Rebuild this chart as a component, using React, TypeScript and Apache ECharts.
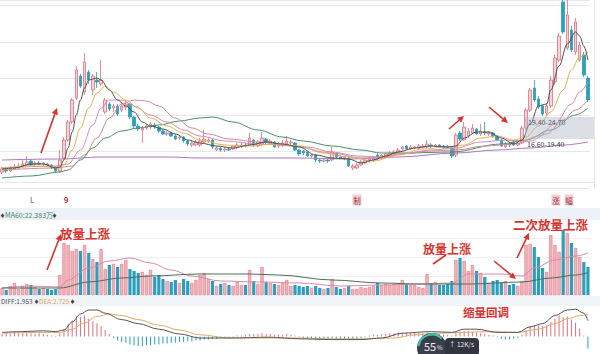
import React, { useEffect, useRef } from "react";
import * as echarts from "echarts";

// ---------- price candles (open / close / low / high) ----------
const opens = [12.5,13.0,12.75,13.25,13.5,14.0,14.25,15.25,14.5,14.75,14.5,14.5,14.25,13.75,12.75,16.0,20.5,25.0,31.0,36.5,32.5,37.5,33.0,35.5,34.5,27.5,29.5,28.5,29.0,28.0,28.75,29.5,26.25,24.0,23.0,23.5,23.75,24.25,23.75,22.75,22.0,22.25,21.5,21.0,21.25,20.25,19.25,19.25,19.25,20.0,20.25,20.5,18.0,18.5,18.0,18.25,18.25,18.75,19.0,19.25,19.25,20.5,19.0,19.5,20.75,20.0,20.0,19.0,19.25,19.5,19.75,19.75,18.0,17.75,17.5,16.5,16.75,15.5,15.25,15.5,15.5,17.0,16.25,16.0,16.0,13.5,13.5,14.25,14.75,15.25,15.5,16.75,16.0,16.5,16.75,17.0,17.5,18.25,19.0,18.25,18.5,18.5,18.75,18.75,19.25,19.0,19.25,19.0,18.75,18.5,16.75,22.25,20.5,21.5,22.25,23.25,22.0,22.5,22.0,22.25,21.5,20.5,18.75,19.5,20.0,19.25,19.75,23.5,28.0,33.5,30.75,29.0,27.25,29.0,35.0,40.5,55.0,43.5,48.0,42.5,40.5,41.75,36.0];
const closes = [13.25,12.75,13.5,13.75,14.0,14.5,15.0,14.25,14.75,14.5,14.75,14.25,13.5,12.75,15.5,20.5,25.0,30.5,38.0,34.0,40.0,35.5,36.5,35.0,35.5,30.5,28.25,29.0,27.0,29.0,29.5,26.25,24.0,23.25,23.5,24.0,24.5,23.75,22.75,22.0,22.25,21.5,20.75,21.25,20.25,19.5,19.75,20.0,20.25,20.75,20.5,18.75,18.5,18.0,18.25,18.0,19.0,19.25,19.25,19.0,21.0,19.25,20.0,21.0,20.0,20.25,18.75,19.5,19.75,20.25,20.0,18.0,17.0,17.25,16.5,16.75,15.5,15.25,15.5,15.25,17.5,16.25,16.0,16.25,14.0,14.0,14.25,15.0,15.5,15.75,16.0,15.75,16.75,17.0,17.25,17.5,18.0,18.75,18.25,18.75,18.75,19.0,19.0,19.5,19.0,19.25,18.75,18.5,18.5,16.5,21.75,20.75,23.75,22.75,23.5,22.0,22.75,22.25,22.25,21.5,20.5,19.0,19.5,19.25,19.25,19.75,23.5,28.0,33.0,30.5,28.75,27.0,29.0,35.5,41.0,46.5,47.5,51.75,43.0,50.0,44.25,36.75,30.5];
const lows = [12.0,12.25,12.5,13.0,13.25,13.5,14.0,14.0,14.0,14.25,14.0,13.75,13.25,12.25,12.25,15.5,20.0,24.5,30.5,33.5,31.75,34.5,31.75,33.5,34.0,27.0,27.75,27.5,26.5,27.5,28.0,25.75,23.5,22.75,19.75,23.0,23.25,23.25,22.25,21.75,21.5,21.25,20.5,20.5,19.75,19.0,18.75,19.0,18.75,19.75,19.75,18.25,17.75,17.5,17.5,17.75,18.0,18.25,18.5,18.75,19.0,18.75,18.75,19.0,19.5,19.5,18.5,18.5,18.75,19.0,19.25,17.75,16.5,16.75,16.25,16.0,15.0,14.75,15.0,14.75,15.25,16.0,15.75,15.5,13.75,13.0,13.25,14.0,14.5,14.75,15.0,15.5,15.75,16.0,16.25,16.75,17.25,17.75,18.0,18.0,18.25,18.25,18.5,18.5,18.5,18.75,18.5,18.25,18.25,16.0,16.25,20.25,20.25,21.0,22.0,21.75,21.5,21.75,21.5,21.0,20.25,18.75,18.5,18.75,19.0,19.0,19.5,23.0,27.5,30.0,28.25,26.5,26.75,28.5,34.25,40.0,47.0,43.0,42.5,41.75,40.0,36.25,30.0];
const highs = [13.75,13.5,14.0,14.5,14.75,15.5,16.5,15.75,15.25,15.25,15.0,14.75,14.5,14.0,18.0,21.25,25.5,31.0,39.0,37.0,42.25,38.0,37.0,37.5,40.5,31.0,30.0,29.5,29.5,29.5,30.5,29.75,26.5,24.5,24.0,24.5,25.0,24.75,24.0,23.25,22.75,22.5,22.0,21.75,21.5,20.5,20.25,20.5,21.0,23.0,21.25,20.75,19.0,18.75,18.75,18.75,19.25,19.75,19.75,19.75,22.25,20.75,20.5,22.5,21.0,20.75,20.25,20.0,20.5,21.5,20.5,20.0,18.25,18.0,17.75,17.0,17.0,16.0,16.0,15.75,18.75,17.25,16.75,16.5,16.25,14.5,14.75,15.5,16.0,16.25,16.5,17.25,17.0,17.25,17.75,18.0,18.5,19.0,19.25,19.25,19.0,19.5,19.5,20.5,19.75,19.5,19.5,19.25,19.25,18.75,22.25,22.75,25.0,23.5,24.5,23.5,24.5,25.0,22.75,22.5,21.75,20.75,20.0,20.0,20.5,20.25,24.0,28.5,33.5,35.5,31.5,29.5,29.75,36.5,41.75,47.25,55.5,55.5,49.0,51.0,45.0,42.5,36.5];

// ---------- volume (万) ----------
const volumes = [7,5,9,12,6,9,11,10,8,6,7,6,5,6,20,52,50,44,46,44,50,42,36,33,46,26,30,31,28,31,35,26,24,22,23,20,25,18,20,16,14,13,15,12,16,14,12,15,20,22,16,14,9,11,12,10,9,13,10,10,25,14,11,28,13,12,11,10,12,15,9,10,9,8,9,7,9,7,6,7,16,8,6,7,9,6,6,8,7,8,9,12,10,11,10,11,12,15,11,10,10,8,7,21,12,13,10,10,11,14,35,37,34,24,30,24,22,18,12,14,15,12,14,10,11,9,14,50,51,48,38,27,23,60,50,43,65,62,52,47,38,33,28];

// ---------- MACD histogram ----------
const macdHist = [0.3,0.4,0.3,0.5,0.4,0.5,0.6,0.4,0.3,0.4,0.3,0.2,0.1,-0.1,0.4,0.9,1.5,2.0,2.5,2.4,2.6,2.2,1.9,1.6,1.3,0.8,0.3,-0.2,-0.5,-0.7,-0.8,-1.0,-1.1,-1.2,-1.2,-1.1,-1.1,-1.0,-1.0,-0.9,-0.9,-0.8,-0.8,-0.7,-0.7,-0.6,-0.6,-0.5,-0.5,-0.4,-0.4,-0.3,-0.3,-0.2,-0.2,-0.1,-0.1,0.1,0.1,0.2,0.3,0.3,0.3,0.4,0.3,0.3,0.2,0.2,0.2,0.3,0.2,0.1,-0.1,-0.2,-0.3,-0.3,-0.4,-0.4,-0.4,-0.4,-0.3,-0.3,-0.3,-0.3,-0.4,-0.4,-0.3,-0.2,-0.1,0.1,0.2,0.2,0.3,0.3,0.4,0.4,0.5,0.5,0.5,0.4,0.4,0.4,0.4,0.5,0.4,0.3,0.3,0.2,0.2,0.1,0.5,0.6,0.7,0.7,0.6,0.5,0.4,0.3,0.2,0.1,-0.1,-0.3,-0.4,-0.4,-0.3,-0.2,0.2,0.8,1.3,1.4,1.4,1.3,1.4,1.8,2.2,2.6,2.4,2.5,2.1,1.7,1.0,0.1,-1.5];

// ---------- moving-average lines, read as [candle index, value] ----------
const ma5 = [[0,13.25],[3,13.5],[7,14.5],[10,14.5],[13,13.5],[14,13.75],[15,15.5],[16,18.5],[17,22.5],[18,26.75],[19,30.5],[20,33.5],[21,35.5],[23,36.0],[24,35.5],[26,33.0],[28,30.5],[30,29.0],[32,27.5],[34,25.0],[36,24.0],[39,23.25],[42,22.0],[45,20.5],[48,19.75],[52,19.0],[56,18.5],[60,19.25],[64,20.0],[68,19.5],[72,18.75],[76,16.75],[80,16.0],[84,15.75],[87,14.75],[90,15.5],[93,16.5],[96,17.5],[100,18.5],[104,19.0],[108,18.75],[110,19.0],[112,21.0],[115,22.5],[118,22.5],[121,21.0],[124,19.5],[126,20.5],[128,24.5],[130,29.0],[132,29.5],[133,33.0],[135,39.0],[137,44.5],[139,47.5],[140,46.5],[141,44.0],[142,40.5]];
const ma10 = [[0,13.5],[7,14.0],[13,13.75],[15,14.25],[17,18.0],[19,23.5],[21,28.5],[23,32.25],[25,34.0],[27,32.5],[30,30.5],[33,28.5],[36,26.0],[40,24.0],[44,22.25],[48,20.5],[54,19.25],[60,19.0],[66,19.5],[72,19.0],[78,17.25],[84,16.25],[90,15.25],[96,16.75],[102,18.25],[108,18.75],[112,19.25],[116,21.0],[120,21.5],[124,20.5],[127,21.25],[130,24.0],[133,27.5],[136,33.0],[138,38.0],[140,41.25],[142,42.5]];
const ma20 = [[0,13.5],[13,14.0],[16,14.5],[19,18.0],[22,24.25],[24,28.5],[26,30.5],[29,30.5],[32,29.0],[36,26.75],[40,25.0],[44,23.0],[48,21.5],[54,20.25],[62,19.5],[68,19.25],[74,18.75],[80,17.5],[86,16.5],[92,16.25],[98,17.25],[104,18.0],[110,18.5],[116,20.0],[122,20.5],[126,20.25],[130,21.5],[134,24.5],[138,29.5],[140,32.5],[142,35.0]];
const ma30 = [[0,13.0],[13,13.5],[17,14.0],[20,16.75],[23,21.0],[26,26.0],[29,29.5],[32,30.5],[35,30.25],[38,29.0],[42,26.0],[46,23.5],[50,22.0],[55,20.75],[62,20.0],[70,19.0],[80,17.25],[87,16.0],[92,16.0],[97,17.0],[104,17.75],[110,18.0],[117,19.0],[124,19.5],[128,20.25],[132,22.0],[136,25.5],[139,28.0],[142,30.5]];
const ma60 = [[0,11.0],[7,11.5],[14,12.5],[16,13.0],[19,15.5],[22,18.5],[25,21.0],[29,22.75],[33,23.5],[38,24.25],[43,25.25],[48,26.0],[51,26.25],[56,25.0],[62,23.0],[68,21.25],[73,20.25],[80,19.0],[87,18.0],[92,17.25],[98,17.25],[109,17.5],[121,19.5],[127,20.5],[133,23.0],[139,26.75],[142,28.5]];
const ma120 = [[0,15.5],[14,15.75],[24,16.25],[40,16.25],[48,16.0],[60,16.0],[72,16.0],[84,15.75],[96,16.25],[110,17.25],[120,18.0],[128,18.5],[136,19.25],[142,20.0]];

const volMaShort = [[0,7],[7,9],[14,8],[16,15],[21,27],[26,34],[31,37],[36,32],[41,25],[46,19],[53,14],[63,13],[72,12],[82,9],[92,10],[101,11],[109,12],[113,21],[121,21],[126,19],[129,27],[134,35],[139,39],[142,42]];
const volMa60 = [[0,7],[14,7],[21,13],[29,17],[36,19],[48,21],[60,21],[67,20],[80,15],[92,12],[101,11],[113,11],[126,13],[133,17],[139,20],[142,22.38]];

const difLine = [[0,0.5],[5,0.6],[10,0.7],[13,0.6],[15,0.8],[17,1.8],[19,2.8],[21,3.3],[23,3.3],[25,2.9],[29,2.1],[33,1.6],[38,0.9],[43,0.3],[48,-0.2],[55,-0.2],[65,-0.1],[72,-0.3],[80,-0.4],[87,-0.4],[92,-0.2],[97,0.4],[104,0.6],[109,0.5],[112,0.9],[115,0.9],[120,0.5],[125,0.5],[128,1.2],[131,1.6],[134,2.6],[137,3.3],[139,3.4],[141,2.9],[142,1.953]];
const deaLine = [[0,0.4],[10,0.5],[14,0.5],[17,0.9],[20,1.7],[23,2.5],[26,2.8],[29,2.6],[33,2.1],[38,1.4],[43,0.8],[48,0.2],[55,-0.2],[65,-0.2],[72,-0.2],[80,-0.3],[87,-0.3],[95,-0.2],[100,0.2],[106,0.4],[112,0.5],[118,0.6],[125,0.5],[130,0.9],[134,1.6],[137,2.2],[140,2.6],[142,2.725]];

const days = opens.map((_, i) => String(i + 1));

const RED = "#d8322e";
const UP_FILL = "#f6d3d7";
const UP_LINE = "#e0707e";
const VOL_UP = "#f1b6bd";
const DOWN = "#2b9fbb";
const CJK = '"Noto Sans CJK SC", "Noto Sans", sans-serif';

function arrow(x1: number, y1: number, x2: number, y2: number, head = true) {
  const els: any[] = [];
  const ang = Math.atan2(y2 - y1, x2 - x1);
  const L = 6.5, W = 3.2;
  const bx = x2 - L * Math.cos(ang), by = y2 - L * Math.sin(ang);
  els.push({ type: "line", z: 100, shape: { x1, y1, x2: head ? bx : x2, y2: head ? by : y2 }, style: { stroke: RED, lineWidth: 1.6 } });
  if (head) {
    const px = -Math.sin(ang) * W, py = Math.cos(ang) * W;
    els.push({ type: "polygon", z: 100, shape: { points: [[x2, y2], [bx + px, by + py], [bx - px, by - py]] }, style: { fill: RED } });
  }
  return els;
}

function txt(text: string, x: number, y: number, size: number, fill: string, weight: any = "normal", align = "left") {
  return { type: "text", z: 101, x, y, style: { text, fill, fontSize: size, fontWeight: weight, fontFamily: CJK, verticalAlign: "middle", align } };
}

function tag(text: string, cx: number, cy: number) {
  return [
    { type: "rect", z: 99, shape: { x: cx - 4.5, y: cy - 5.5, width: 9, height: 11 }, style: { fill: "#f1cfd6" } },
    txt(text, cx, cy, 7.5, "#a2303e", "normal", "center"),
  ];
}

function lineSeries(data: number[][], color: string, xi: number, yi: number, width = 1) {
  return {
    type: "line", data, xAxisIndex: xi, yAxisIndex: yi, smooth: 0.35, smoothMonotone: "x",
    showSymbol: false, symbol: "none", silent: true, z: 4,
    lineStyle: { color, width },
  };
}

export default function App() {
  const ref = useRef<HTMLDivElement>(null);
  useEffect(() => {
    if (!ref.current) return;
    const chart = echarts.init(ref.current, undefined, { renderer: "svg" });
    const candles = opens.map((o, i) => [o, closes[i], lows[i], highs[i]]);
    const volData = volumes.map((v, i) => ({
      value: v,
      itemStyle: closes[i] >= opens[i]
        ? { color: VOL_UP, borderColor: UP_LINE, borderWidth: 0.6 }
        : { color: DOWN },
    }));
    const macdData = macdHist.map((v) => ({ value: v, itemStyle: { color: v >= 0 ? "#e0707e" : DOWN } }));

    const xAx = (g: number) => ({
      type: "category", gridIndex: g, data: days, boundaryGap: true,
      axisLine: { show: false }, axisTick: { show: false }, axisLabel: { show: false }, splitLine: { show: false },
    });

    const graphic: any[] = [
      // panel bands and separators
      { type: "rect", z: -1, shape: { x: 0, y: 208, width: 600, height: 12 }, style: { fill: "#edf1f8" } },
      { type: "rect", z: -1, shape: { x: 0, y: 296, width: 600, height: 10 }, style: { fill: "#f0f3f8" } },
      { type: "line", z: 1, shape: { x1: 0, y1: 182.5, x2: 594, y2: 182.5 }, style: { stroke: "#e6e6e6", lineWidth: 1 } },
      { type: "line", z: 1, shape: { x1: 594.5, y1: 0, x2: 594.5, y2: 188 }, style: { stroke: "#e6e6e6", lineWidth: 1 } },
      // price range box
      { type: "rect", z: 50, shape: { x: 525, y: 117, width: 69, height: 22 }, style: { fill: "rgba(176,182,198,0.45)" } },
      txt("19.40-24.70", 528, 122, 7, "#5a5a66"),
      txt("16.60-19.40", 527, 143.5, 7, "#3c3c44"),
      // date-row markers
      txt("L", 30, 199, 8, "#666"),
      txt("9", 66, 199, 8, "#b03a3a", "bold", "center"),
      ...tag("制", 357, 200),
      ...tag("涨", 556, 200),
      ...tag("幅", 569, 200),
      // panel headers
      txt("♦", 0, 214, 5, "#444"),
      txt("MA60:22.383万", 5, 214.5, 7, "#3f8a66"),
      txt("♦", 52, 214, 5, "#444"),
      txt("DIFF:1.953", 1, 300.5, 6.5, "#555"),
      txt("♦", 34, 300.5, 5, "#444"),
      txt("DEA:2.725", 39, 300.5, 6.5, "#e3a867"),
      txt("♦", 70, 300.5, 5, "#444"),
      // annotations
      ...arrow(41, 153, 57, 108),
      ...arrow(449, 129, 464, 116),
      ...arrow(489, 107, 508, 123),
      ...arrow(47, 270, 61, 234),
      ...arrow(433, 264, 446, 255, false),
      ...arrow(494, 261, 516, 279),
      ...arrow(517, 258, 529, 233),
      txt("放量上涨", 60, 233, 12.5, RED, "bold"),
      txt("放量上涨", 423, 248, 12, RED, "bold"),
      txt("二次放量上涨", 513, 224, 12.5, RED, "bold"),
      txt("缩量回调", 463, 311.5, 11.5, RED, "bold"),
      // floating speed widget
      { type: "circle", z: 110, shape: { cx: 432, cy: 348, r: 15 }, style: { fill: "#3a3f4b" } },
      { type: "arc", z: 111, shape: { cx: 432, cy: 348, r: 13.5, startAngle: Math.PI * 1.05, endAngle: Math.PI * 1.75 }, style: { stroke: "#45c3b1", lineWidth: 2, fill: "none" } },
      { type: "text", z: 112, x: 430, y: 345.5, style: { text: "55", fill: "#e8ecf2", fontSize: 11, fontFamily: CJK, align: "center", verticalAlign: "middle" } },
      { type: "text", z: 112, x: 437, y: 347.5, style: { text: "%", fill: "#e8ecf2", fontSize: 6, fontFamily: CJK, align: "left", verticalAlign: "middle" } },
      { type: "rect", z: 110, shape: { x: 445, y: 338, width: 34, height: 18, r: 4 }, style: { fill: "#30353f" } },
      { type: "text", z: 112, x: 449, y: 344, style: { text: "↑ 12K/s", fill: "#e8ecf2", fontSize: 6.5, fontFamily: CJK, verticalAlign: "middle" } },
    ];

    chart.setOption({
      animation: false,
      backgroundColor: "#ffffff",
      grid: [
        { left: 0, right: 10, top: 0, height: 188 },
        { left: 0, right: 10, top: 219, height: 76 },
        { left: 0, right: 10, top: 306, height: 60 },
      ],
      xAxis: [xAx(0), xAx(1), xAx(2)],
      yAxis: [
        { type: "value", gridIndex: 0, min: 8.5, max: 55.5, show: false },
        {
          type: "value", gridIndex: 0, min: 0, max: 188, interval: 36.5, position: "right",
          axisLine: { show: false }, axisTick: { show: false }, axisLabel: { show: false },
          splitLine: { show: true, lineStyle: { color: "#e8e8ea", width: 1 } },
        },
        {
          type: "value", gridIndex: 1, min: 0, max: 76, interval: 19,
          axisLine: { show: false }, axisTick: { show: false }, axisLabel: { show: false },
          splitLine: { show: true, lineStyle: { color: "#eef0f4", width: 1 } },
        },
        { type: "value", gridIndex: 2, min: -2.2, max: 3.8, show: false },
      ],
      series: [
        {
          type: "candlestick", data: candles, xAxisIndex: 0, yAxisIndex: 0, barWidth: 3, z: 3,
          clip: false,
          itemStyle: { color: UP_FILL, color0: DOWN, borderColor: UP_LINE, borderColor0: DOWN, borderWidth: 0.8 },
        },
        lineSeries(ma120, "#a877b8", 0, 0),
        lineSeries(ma60, "#4a8f63", 0, 0),
        lineSeries(ma30, "#c98f8f", 0, 0),
        lineSeries(ma20, "#d487c4", 0, 0),
        lineSeries(ma10, "#e4b24c", 0, 0),
        lineSeries(ma5, "#505050", 0, 0),
        { type: "bar", data: volData, xAxisIndex: 1, yAxisIndex: 2, barWidth: 3.2, z: 3 },
        lineSeries(volMaShort, "#d38aa8", 1, 2),
        lineSeries(volMa60, "#4f6b5a", 1, 2),
        { type: "bar", data: macdData, xAxisIndex: 2, yAxisIndex: 3, barWidth: 1, z: 3 },
        lineSeries(deaLine, "#e3a867", 2, 3),
        lineSeries(difLine, "#555555", 2, 3),
      ],
      graphic,
    });
    return () => chart.dispose();
  }, []);
  return (
    <div
      ref={ref}
      style={{ position: "fixed", left: 0, top: 0, width: 600, height: 354, background: "#fff" }}
    />
  );
}
